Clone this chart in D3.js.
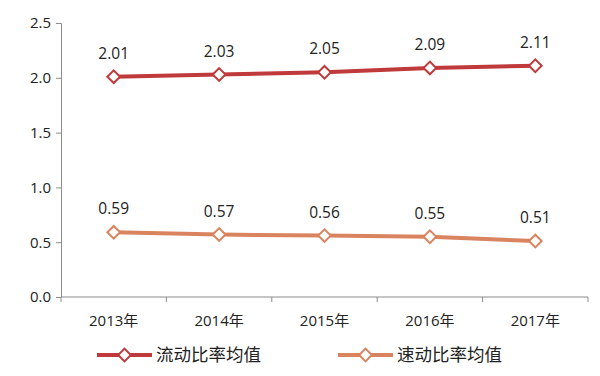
<!DOCTYPE html>
<html>
<head>
<meta charset="utf-8">
<script src="https://cdn.jsdelivr.net/npm/d3@7"></script>
<style>
  body { margin: 0; background: #fff; }
</style>
</head>
<body>
<div id="chart"></div>
<script>
const years = ["2013年", "2014年", "2015年", "2016年", "2017年"];
const currentRatio = [2.01, 2.03, 2.05, 2.09, 2.11];
const quickRatio = [0.59, 0.57, 0.56, 0.55, 0.51];
const seriesNames = ["流动比率均值", "速动比率均值"];
const yTicks = [0, 0.5, 1.0, 1.5, 2.0, 2.5];

const width = 600, height = 376;
const marginLeft = 61, marginRight = 12, marginTop = 23, marginBottom = 79;
const colors = ["#c0393b", "#d9835f"];
const font = "'Open Sans', 'Noto Sans CJK SC', sans-serif";

const xScale = d3.scaleBand(years, [marginLeft, width - marginRight]);
const yScale = d3.scaleLinear([0, 2.5], [height - marginBottom, marginTop]);

const svg = d3.select("#chart")
  .append("svg")
  .attr("width", width)
  .attr("height", height)
  .attr("viewBox", [0, 0, width, height]);

// y axis
svg.append("g")
  .attr("transform", `translate(${marginLeft},0)`)
  .call(d3.axisLeft(yScale).tickValues(yTicks).tickFormat(d3.format(".1f")).tickSize(5).tickPadding(5))
  .call((g) => g.selectAll("line, path").attr("stroke", "#8c8c8c"))
  .call((g) => g.selectAll(".tick text")
    .attr("font-size", 15)
    .attr("font-family", font)
    .attr("fill", "#222"));

// x axis: ticks on band edges
const xAxis = svg.append("g")
  .attr("transform", `translate(0,${height - marginBottom})`);
xAxis.append("line")
  .attr("x1", marginLeft)
  .attr("x2", width - marginRight)
  .attr("stroke", "#8c8c8c");
xAxis.selectAll("line.edge")
  .data(years.concat([null]))
  .join("line")
  .attr("class", "edge")
  .attr("x1", (d, i) => i < years.length ? xScale(d) : xScale(years[years.length - 1]) + xScale.bandwidth())
  .attr("x2", (d, i) => i < years.length ? xScale(d) : xScale(years[years.length - 1]) + xScale.bandwidth())
  .attr("y1", 0)
  .attr("y2", 5)
  .attr("stroke", "#8c8c8c");
xAxis.selectAll("text")
  .data(years)
  .join("text")
  .attr("x", (d) => xScale(d) + xScale.bandwidth() / 2)
  .attr("y", 29)
  .attr("text-anchor", "middle")
  .attr("font-size", 15)
  .attr("font-family", font)
  .attr("fill", "#222")
  .text((d) => d);

const cx = (i) => xScale(years[i]) + xScale.bandwidth() / 2;
const line = d3.line()
  .x((d, i) => cx(i))
  .y((d) => yScale(d));

// square turned 45deg so it reads as an even diamond
const diamond = d3.symbol(d3.symbolSquare, 80);

[currentRatio, quickRatio].forEach((values, k) => {
  svg.append("path")
    .datum(values)
    .attr("d", line)
    .attr("fill", "none")
    .attr("stroke", colors[k])
    .attr("stroke-width", 4);

  svg.append("g")
    .selectAll("path")
    .data(values)
    .join("path")
    .attr("transform", (d, i) => `translate(${cx(i)},${yScale(d)}) rotate(45)`)
    .attr("d", diamond)
    .attr("fill", "#fff")
    .attr("stroke", colors[k])
    .attr("stroke-width", 2);

  svg.append("g")
    .selectAll("text")
    .data(values)
    .join("text")
    .attr("x", (d, i) => cx(i))
    .attr("y", (d) => yScale(d) - 22)
    .attr("text-anchor", "middle")
    .attr("dominant-baseline", "middle")
    .attr("font-size", 15.5)
    .attr("font-family", font)
    .attr("fill", "#222")
    .text((d) => d3.format(".2f")(d));
});

// legend
const legendX = [97, 338];
const legendY = 355;
seriesNames.forEach((name, k) => {
  const g = svg.append("g").attr("transform", `translate(${legendX[k]},${legendY})`);
  g.append("line")
    .attr("x1", 0).attr("x2", 55)
    .attr("stroke", colors[k])
    .attr("stroke-width", 4);
  g.append("path")
    .attr("transform", "translate(27.5,0) rotate(45)")
    .attr("d", diamond)
    .attr("fill", "#fff")
    .attr("stroke", colors[k])
    .attr("stroke-width", 2);
  g.append("text")
    .attr("x", 59)
    .attr("y", 1)
    .attr("dominant-baseline", "middle")
    .attr("font-size", 17.5)
    .attr("font-family", font)
    .attr("fill", "#222")
    .text(name);
});
</script>
</body>
</html>
